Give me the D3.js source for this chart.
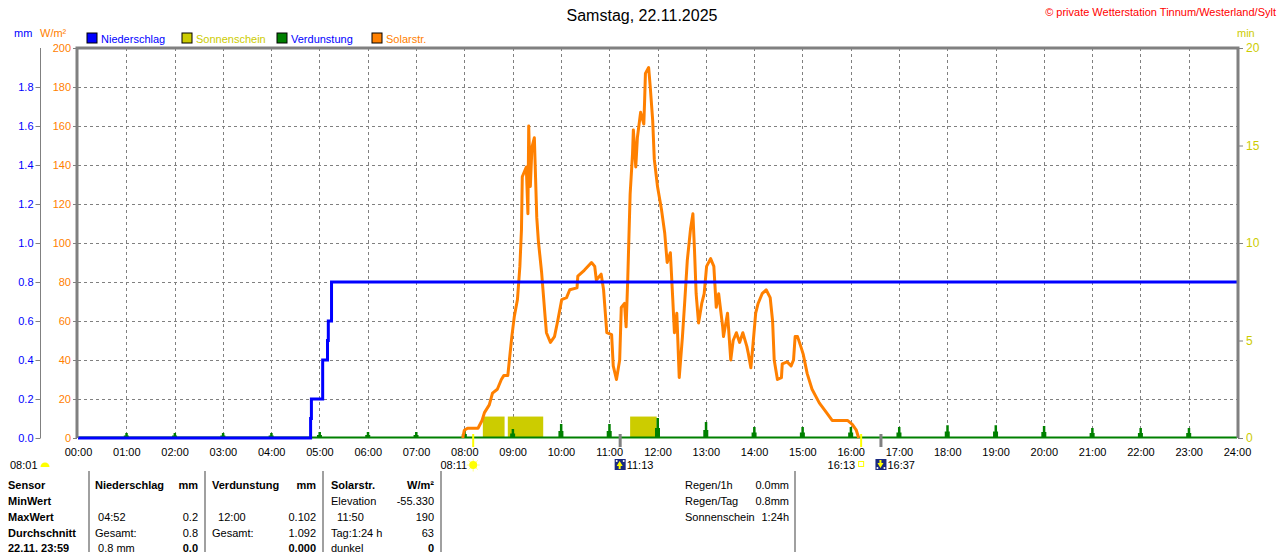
<!DOCTYPE html>
<html>
<head>
<meta charset="utf-8">
<script src="https://d3js.org/d3.v7.min.js"></script>
<style>
  body { margin: 0; background: #fff; }
  svg { display: block; font-family: "Liberation Sans", Arial, sans-serif; font-size: 11px; }
  .grid line { stroke: #808080; stroke-dasharray: 3,3; stroke-width: 1; }
  .b { font-weight: bold; }
</style>
</head>
<body>
<script>
  // Solarstrahlung W/m²
  var solarTimes = ["07:58","08:00","08:04","08:17","08:22","08:25","08:31","08:35","08:41","08:46",
    "08:49","08:54","08:56","08:59","09:02","09:06","09:09","09:11","09:12","09:17",
    "09:19","09:20","09:22","09:24","09:27","09:30","09:32","09:36","09:40","09:42",
    "09:47","09:52","09:56","10:01","10:07","10:11","10:20","10:21","10:29","10:38",
    "10:42","10:44","10:50","10:53","10:57","11:03","11:05","11:09","11:13","11:15",
    "11:19","11:21","11:23","11:26","11:29","11:30","11:33","11:35","11:39","11:43",
    "11:44","11:45","11:49","11:51","11:54","11:56","12:00","12:05","12:09","12:12",
    "12:16","12:19","12:21","12:24","12:27","12:31","12:34","12:37","12:41","12:44",
    "12:46","12:48","12:51","12:55","12:58","13:01","13:06","13:10","13:13","13:16",
    "13:21","13:22","13:27","13:31","13:34","13:38","13:42","13:46","13:51","13:53",
    "13:56","13:58","14:02","14:05","14:10","14:15","14:20","14:23","14:25","14:29",
    "14:34","14:35","14:41","14:46","14:49","14:51","14:54","14:58","15:01","15:06",
    "15:12","15:21","15:30","15:37","15:56","16:02","16:07","16:10"];
  var solarValues = [0,4,5,5,9,13,17,23,25,30,
    32,32,40,52,62,71,88,107,134,139,
    115,160,129,149,154,113,101,85,64,54,
    49,52,60,71,72,76,77,83,86,90,
    88,81,84,76,54,53,37,30,40,67,
    69,57,81,125,146,158,139,154,167,161,
    173,187,190,180,163,143,129,117,105,90,
    95,71,54,64,31,52,71,91,107,115,
    96,74,59,69,74,88,92,88,67,74,
    57,52,64,40,50,54,49,54,47,43,
    36,45,64,69,74,76,72,60,40,30,
    31,38,39,37,40,52,52,47,43,33,
    25,18,13,9,9,7,4,0];

  // Niederschlag (Summe, mm)
  var rainTimes = ["00:00","04:49","04:50","05:04","05:10","05:11","05:15","24:00"];
  var rainValues = [0, 0.1, 0.2, 0.4, 0.5, 0.6, 0.8, 0.8];

  // Verdunstung pro Stunde (mm)
  var evapTimes = ["01:00","02:00","03:00","04:00","05:00","06:00","07:00","08:00","09:00","10:00","11:00","12:00",
    "13:00","14:00","15:00","16:00","17:00","18:00","19:00","20:00","21:00","22:00","23:00"];
  var evapValues = [0.026,0.026,0.026,0.026,0.031,0.031,0.031,0.041,0.046,0.072,0.072,0.102,
    0.082,0.056,0.056,0.056,0.056,0.066,0.066,0.062,0.051,0.051,0.051];

  // Sonnenschein (min)
  var sunStarts = ["08:23","08:54","11:26"];
  var sunEnds = ["08:50","09:38","11:59"];
  var sunMinutes = [1.1, 1.1, 1.1];

  // Sonnen-/Mondauf- und -untergang
  var eventTimes = ["08:11","11:13","16:13","16:37"];
  var eventKinds = ["sunrise","moonrise","sunset","moonset"];

  // Achsen
  var hourLabels = ["00:00","01:00","02:00","03:00","04:00","05:00","06:00","07:00","08:00","09:00","10:00","11:00","12:00",
    "13:00","14:00","15:00","16:00","17:00","18:00","19:00","20:00","21:00","22:00","23:00","24:00"];
  var wTicks = [0,20,40,60,80,100,120,140,160,180,200];
  var mmTicks = [0,0.2,0.4,0.6,0.8,1.0,1.2,1.4,1.6,1.8];
  var minTicks = [0,5,10,15,20];

  var legendNames = ["Niederschlag","Sonnenschein","Verdunstung","Solarstr."];
  var legendFill = ["#0000ff","#cccc00","#008000","#ff8000"];
  var legendText = ["#0000ff","#cccc00","#0000ff","#ff8000"];

  // Tabelle
  var tblSensor = ["Sensor","MinWert","MaxWert","Durchschnitt","22.11. 23:59"];
  var tblRain = [["Niederschlag","mm"],["",""],[" 04:52","0.2"],["Gesamt:","0.8"],[" 0.8 mm","0.0"]];
  var tblEvap = [["Verdunstung","mm"],["",""],["  12:00","0.102"],["Gesamt:","1.092"],["","0.000"]];
  var tblSolar = [["Solarstr.","W/m²"],["Elevation","-55.330"],["  11:50","190"],["Tag:1:24 h","63"],["dunkel","0"]];
  var tblInfo = [["Regen/1h","0.0mm"],["Regen/Tag","0.8mm"],["Sonnenschein","1:24h"]];

  function toMin(s) { var p = s.split(":"); return +p[0] * 60 + +p[1]; }

  var W = 1280, H = 552;
  var pL = 78, pR = 1237, pT = 48, pB = 438;

  var svg = d3.select("body").append("svg").attr("width", W).attr("height", H);

  var x = d3.scaleLinear().domain([0, 1440]).range([pL, pR]);
  var yW = d3.scaleLinear().domain([0, 200]).range([pB, pT]);
  var yMm = d3.scaleLinear().domain([0, 2]).range([pB, pT]);
  var yMin = d3.scaleLinear().domain([0, 20]).range([pB, pT]);

  // Titel
  svg.append("text").attr("x", 642).attr("y", 21).attr("text-anchor", "middle")
    .style("font-size", "16px").text("Samstag, 22.11.2025");
  svg.append("text").attr("x", 1276).attr("y", 16).attr("text-anchor", "end")
    .attr("fill", "#ff0000").text("© private Wetterstation Tinnum/Westerland/Sylt");

  // Einheiten
  svg.append("text").attr("x", 14).attr("y", 37).attr("fill", "#0000ff").text("mm");
  svg.append("text").attr("x", 40).attr("y", 37).attr("fill", "#ff8000").text("W/m²");
  svg.append("text").attr("x", 1237).attr("y", 37).attr("fill", "#cccc00").text("min");

  // Legende
  var legX = [87, 182, 277, 372];
  var leg = svg.selectAll(".leg").data(legendNames).enter().append("g")
    .attr("transform", function(d, i) { return "translate(" + legX[i] + ",33)"; });
  leg.append("rect").attr("width", 10).attr("height", 10)
    .attr("fill", function(d, i) { return legendFill[i]; }).attr("stroke", "#000");
  leg.append("text").attr("x", 14).attr("y", 9.5)
    .attr("fill", function(d, i) { return legendText[i]; }).text(function(d) { return d; });

  // Gitter
  var grid = svg.append("g").attr("class", "grid");
  grid.selectAll(".h").data(wTicks.slice(1, -1)).enter().append("line")
    .attr("x1", pL).attr("x2", pR)
    .attr("y1", function(d) { return Math.round(yW(d)) + 0.5; })
    .attr("y2", function(d) { return Math.round(yW(d)) + 0.5; });
  grid.selectAll(".v").data(hourLabels.slice(1, -1)).enter().append("line")
    .attr("y1", pT).attr("y2", pB)
    .attr("x1", function(d) { return Math.round(x(toMin(d))) + 0.5; })
    .attr("x2", function(d) { return Math.round(x(toMin(d))) + 0.5; });

  // Sonnenschein
  svg.selectAll(".sun").data(sunStarts).enter().append("rect")
    .attr("x", function(d) { return x(toMin(d)); })
    .attr("width", function(d, i) { return x(toMin(sunEnds[i])) - x(toMin(d)); })
    .attr("y", function(d, i) { return yMin(sunMinutes[i]); })
    .attr("height", function(d, i) { return yMin(0) - yMin(sunMinutes[i]); })
    .attr("fill", "#cccc00");

  // Verdunstung
  svg.append("line").attr("x1", pL).attr("x2", pR)
    .attr("y1", yMm(0) - 0.5).attr("y2", yMm(0) - 0.5)
    .attr("stroke", "#008000").attr("stroke-width", 2);
  svg.selectAll(".evap").data(evapTimes).enter().append("path")
    .attr("fill", "#008000")
    .attr("d", function(d, i) {
      var cx = x(toMin(d)), v = evapValues[i];
      var y0 = yMm(0), y1 = yMm(v), yh = yMm(v / 2);
      return "M" + (cx - 2.5) + "," + y0 + "V" + yh + "H" + (cx - 1) + "V" + y1 + "H" + (cx + 1.5) +
        "V" + yh + "H" + (cx + 2.5) + "V" + y0 + "Z";
    });

  // Solarstrahlung
  var solarLine = d3.line()
    .x(function(d) { return x(toMin(d)); })
    .y(function(d, i) { return yW(solarValues[i]); });
  svg.append("path").datum(solarTimes).attr("d", solarLine)
    .attr("fill", "none").attr("stroke", "#ff8000").attr("stroke-width", 3)
    .attr("stroke-linejoin", "round");

  // Niederschlag
  var rainLine = d3.line().curve(d3.curveStepAfter)
    .x(function(d) { return x(toMin(d)); })
    .y(function(d, i) { return yMm(rainValues[i]); });
  svg.append("path").datum(rainTimes).attr("d", rainLine)
    .attr("fill", "none").attr("stroke", "#0000ff").attr("stroke-width", 3);

  // Rahmen
  svg.append("path").attr("d", "M" + (pL - 1) + "," + pB + "V" + pT + "H" + (pR + 1) + "V" + pB)
    .attr("fill", "none").attr("stroke", "#808080").attr("stroke-width", 3);

  function styleAxis(g, color) {
    g.attr("font-size", 11).attr("font-family", "Liberation Sans, Arial, sans-serif");
    g.selectAll(".tick line").attr("stroke", "#808080");
    g.selectAll(".tick text").attr("fill", color);
  }

  // Achse W/m²
  var gW = svg.append("g").attr("transform", "translate(" + (pL - 1) + ",0)")
    .call(d3.axisLeft(yW).tickValues(wTicks).tickSize(4).tickPadding(2).tickFormat(d3.format("d")));
  gW.select(".domain").remove();
  styleAxis(gW, "#ff8000");

  // Achse mm
  var gMm = svg.append("g").attr("transform", "translate(40.5,0)")
    .call(d3.axisLeft(yMm).tickValues(mmTicks).tickSize(5).tickPadding(2).tickSizeOuter(0).tickFormat(d3.format(".1f")));
  gMm.select(".domain").attr("stroke", "#808080").attr("d", "M0," + pT + "V" + pB);
  styleAxis(gMm, "#0000ff");

  // Achse min
  var gMin = svg.append("g").attr("transform", "translate(" + (pR + 1) + ",0)")
    .call(d3.axisRight(yMin).tickValues(minTicks).tickSize(5).tickPadding(3));
  gMin.select(".domain").remove();
  styleAxis(gMin, "#cccc00");
  gMin.selectAll(".tick text").style("font-size", "12px");

  // Zeitachse
  var gX = svg.append("g").attr("transform", "translate(0," + pB + ")")
    .call(d3.axisBottom(x).tickValues(hourLabels.map(toMin)).tickSize(0).tickPadding(10)
      .tickFormat(function(d, i) { return hourLabels[i]; }));
  gX.select(".domain").remove();
  styleAxis(gX, "#000");

  // Ereignisse
  var ev = svg.selectAll(".ev").data(eventTimes).enter().append("g")
    .attr("transform", function(d) { return "translate(" + x(toMin(d)) + ",0)"; });
  ev.append("rect").attr("x", -1).attr("y", 434).attr("width", function(d, i) {
      return eventKinds[i].indexOf("sun") === 0 ? 2 : 3; })
    .attr("height", 13)
    .attr("fill", function(d, i) { return eventKinds[i].indexOf("sun") === 0 ? "#ffff00" : "#808080"; });
  ev.each(function(d, i) {
    var g = d3.select(this), k = eventKinds[i];
    if (k === "sunrise") {
      g.append("text").attr("x", -6).attr("y", 469).attr("text-anchor", "end").text(d);
      for (var a = 0; a < 8; a++) {
        var ang = a * Math.PI / 4;
        g.append("line").attr("x1", Math.cos(ang) * 4).attr("y1", 465 + Math.sin(ang) * 4)
          .attr("x2", Math.cos(ang) * 6.5).attr("y2", 465 + Math.sin(ang) * 6.5)
          .attr("stroke", "#ffff80").attr("stroke-width", 1);
      }
      g.append("circle").attr("cx", 0).attr("cy", 465).attr("r", 4).attr("fill", "#ffff00");
    } else if (k === "sunset") {
      g.append("text").attr("x", -6).attr("y", 469).attr("text-anchor", "end").text(d);
      g.append("rect").attr("x", -2.5).attr("y", 461.5).attr("width", 5).attr("height", 5)
        .attr("fill", "none").attr("stroke", "#ffff00");
    } else {
      g.append("rect").attr("x", -5).attr("y", 459).attr("width", 11).attr("height", 11).attr("fill", "#1a2a80");
      var up = k === "moonrise";
      g.append("path").attr("fill", "#ffff00")
        .attr("d", up ? "M0,461L-3,466H-1V469H1V466H3Z" : "M0,468L-3,463H-1V460H1V463H3Z");
      g.append("circle").attr("cx", -3).attr("cy", up ? 461 : 468).attr("r", 1).attr("fill", "#fff");
      g.append("circle").attr("cx", 4).attr("cy", up ? 461 : 468).attr("r", 1).attr("fill", "#fff");
      g.append("text").attr("x", 7).attr("y", 469).text(d);
    }
  });
  svg.append("text").attr("x", 10).attr("y", 469).text("08:01");
  svg.append("path").attr("d", d3.arc()({ innerRadius: 0, outerRadius: 4.5, startAngle: -Math.PI / 2, endAngle: Math.PI / 2 }))
    .attr("transform", "translate(45,467)").attr("fill", "#ffff00");

  // Tabelle
  var rowY = [489, 505, 521, 537, 552];
  [89, 205, 323, 441, 795].forEach(function(sx) {
    svg.append("line").attr("x1", sx).attr("x2", sx).attr("y1", 471).attr("y2", H)
      .attr("stroke", "#a0a0a0").attr("stroke-width", 2);
  });
  svg.selectAll(".c0").data(tblSensor).enter().append("text").attr("class", "b")
    .attr("x", 8).attr("y", function(d, i) { return rowY[i]; }).text(function(d) { return d; });

  function column(rows, x0, x1, info) {
    rows.forEach(function(r, i) {
      var head = !info && i === 0;
      svg.append("text").attr("class", head ? "b" : null).style("white-space", "pre")
        .attr("x", x0).attr("y", rowY[i]).text(r[0]);
      svg.append("text").attr("class", head || (!info && i === 4) ? "b" : null)
        .attr("x", x1).attr("y", rowY[i]).attr("text-anchor", "end").text(r[1]);
    });
  }
  column(tblRain, 95, 198, false);
  column(tblEvap, 212, 316, false);
  column(tblSolar, 331, 434, false);
  column(tblInfo, 685, 789, true);
</script>
</body>
</html>
